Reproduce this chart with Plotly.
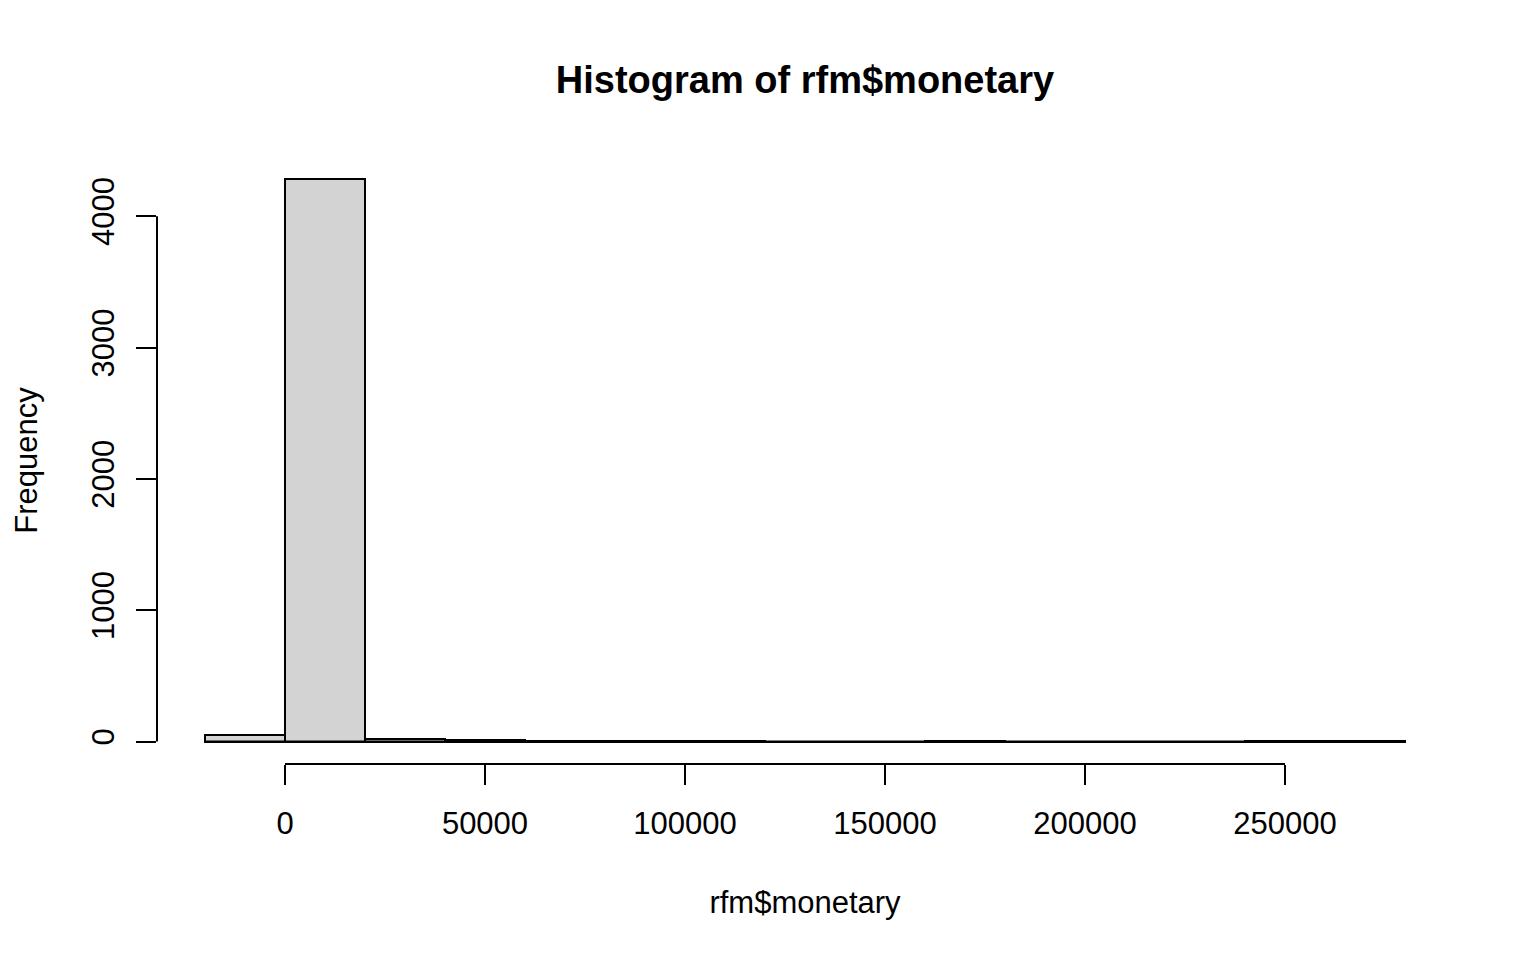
import plotly.graph_objects as go

# histogram of rfm$monetary, bins of 20000 (R default breaks)
BIN_EDGES = list(range(-20000, 280001, 20000))
COUNTS = [51, 4280, 18, 9, 2, 1, 1, 0, 0, 2, 0, 0, 0, 1, 1]
X_TICKS = [0, 50000, 100000, 150000, 200000, 250000]
Y_TICKS = [0, 1000, 2000, 3000, 4000]

FONT = "Arial, Liberation Sans, sans-serif"
BAR_FILL = "#D3D3D3"

centers = [(a + b) / 2 for a, b in zip(BIN_EDGES[:-1], BIN_EDGES[1:])]
widths = [b - a for a, b in zip(BIN_EDGES[:-1], BIN_EDGES[1:])]

# R pads the data range by 4% on each side
xspan = BIN_EDGES[-1] - BIN_EDGES[0]
xr = [BIN_EDGES[0] - 0.04 * xspan, BIN_EDGES[-1] + 0.04 * xspan]
ymax = max(COUNTS)
yr = [-0.04 * ymax, ymax * 1.04]

fig = go.Figure(go.Bar(
    x=centers, y=COUNTS, width=widths,
    marker=dict(color=BAR_FILL, line=dict(color="black", width=2)),
    showlegend=False, hoverinfo="x+y",
))

# baseline formed by empty bins
fig.add_shape(type="line", xref="x", yref="y",
              x0=BIN_EDGES[0], x1=BIN_EDGES[-1], y0=0, y1=0,
              line=dict(color="black", width=2))
# detached R-style axis lines
fig.add_shape(type="line", xref="x", yref="paper",
              x0=X_TICKS[0], x1=X_TICKS[-1], y0=0, y1=0,
              line=dict(color="black", width=2))
fig.add_shape(type="line", xref="paper", yref="y",
              x0=0, x1=0, y0=Y_TICKS[0], y1=Y_TICKS[-1],
              line=dict(color="black", width=2))

# page body adds an 8px offset, so the figure is 8px smaller each way
W, H = 1528, 952
fig.update_layout(
    width=W, height=H,
    paper_bgcolor="white", plot_bgcolor="white",
    margin=dict(l=149, r=83, t=149, b=196),
    font=dict(family=FONT, size=31, color="black"),
    title=dict(text="<b>Histogram of rfm$monetary</b>", x=0.5, xanchor="center",
               xref="paper", y=1 - 72 / H, yref="container", yanchor="middle",
               font=dict(size=38, family=FONT)),
    bargap=0,
)

fig.update_xaxes(
    range=xr, tickvals=X_TICKS, ticktext=[str(v) for v in X_TICKS],
    ticks="outside", ticklen=20, tickwidth=2, tickcolor="black",
    showline=False, showgrid=False, zeroline=False,
    ticklabelstandoff=12,
    title=dict(text="rfm$monetary", standoff=51, font=dict(size=31)),
)
fig.update_yaxes(
    range=yr, tickvals=Y_TICKS, ticktext=[str(v) for v in Y_TICKS],
    ticks="outside", ticklen=20, tickwidth=2, tickcolor="black",
    tickangle=-90,
    showline=False, showgrid=False, zeroline=False,
    ticklabelstandoff=10,
    title=dict(text="Frequency", standoff=38, font=dict(size=31)),
)

fig.write_html("out.html")
